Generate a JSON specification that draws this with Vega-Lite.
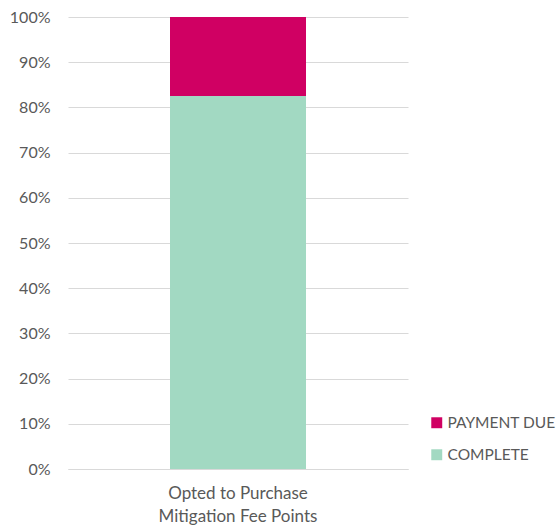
{
  "$schema": "https://vega.github.io/schema/vega-lite/v6.json",
  "autosize": "none",
  "width": 340,
  "height": 452,
  "padding": {"left": 68, "top": 17, "right": 152, "bottom": 60},
  "background": "white",
  "data": {
    "values": [
      {"category": "Opted to Purchase\nMitigation Fee Points", "status": "COMPLETE", "share": 0.825},
      {"category": "Opted to Purchase\nMitigation Fee Points", "status": "PAYMENT DUE", "share": 0.175}
    ]
  },
  "mark": {"type": "bar"},
  "encoding": {
    "x": {
      "field": "category",
      "type": "nominal",
      "scale": {"paddingInner": 0.6, "paddingOuter": 0.3},
      "axis": {
        "title": null,
        "labelAngle": 0,
        "labelExpr": "split(datum.label, '\\n')",
        "labelFont": "Lato",
        "labelFontSize": 17,
        "labelColor": "#595959",
        "labelLineHeight": 23,
        "labelPadding": 16,
        "ticks": false,
        "domain": true,
        "domainColor": "#d9d9d9",
        "grid": false
      }
    },
    "y": {
      "field": "share",
      "type": "quantitative",
      "stack": "zero",
      "scale": {"domain": [0, 1], "nice": false},
      "axis": {
        "title": null,
        "format": ".0%",
        "values": [0, 0.1, 0.2, 0.3, 0.4, 0.5, 0.6, 0.7, 0.8, 0.9, 1],
        "labelFont": "Lato",
        "labelFontSize": 16,
        "labelColor": "#595959",
        "labelPadding": 18,
        "ticks": false,
        "domain": false,
        "grid": true,
        "gridColor": "#d9d9d9",
        "gridWidth": 1
      }
    },
    "color": {
      "field": "status",
      "type": "nominal",
      "scale": {"domain": ["PAYMENT DUE", "COMPLETE"], "range": ["#D00063", "#A2D9C2"]},
      "legend": {
        "title": null,
        "orient": "none",
        "legendX": 361,
        "legendY": 398,
        "symbolType": "square",
        "symbolSize": 120,
        "symbolStrokeWidth": 0,
        "rowPadding": 15,
        "labelFont": "Lato",
        "labelFontSize": 15.5,
        "labelColor": "#595959",
        "labelOffset": 3
      }
    },
    "order": {"field": "status", "sort": "ascending"}
  },
  "config": {"view": {"stroke": null}}
}
